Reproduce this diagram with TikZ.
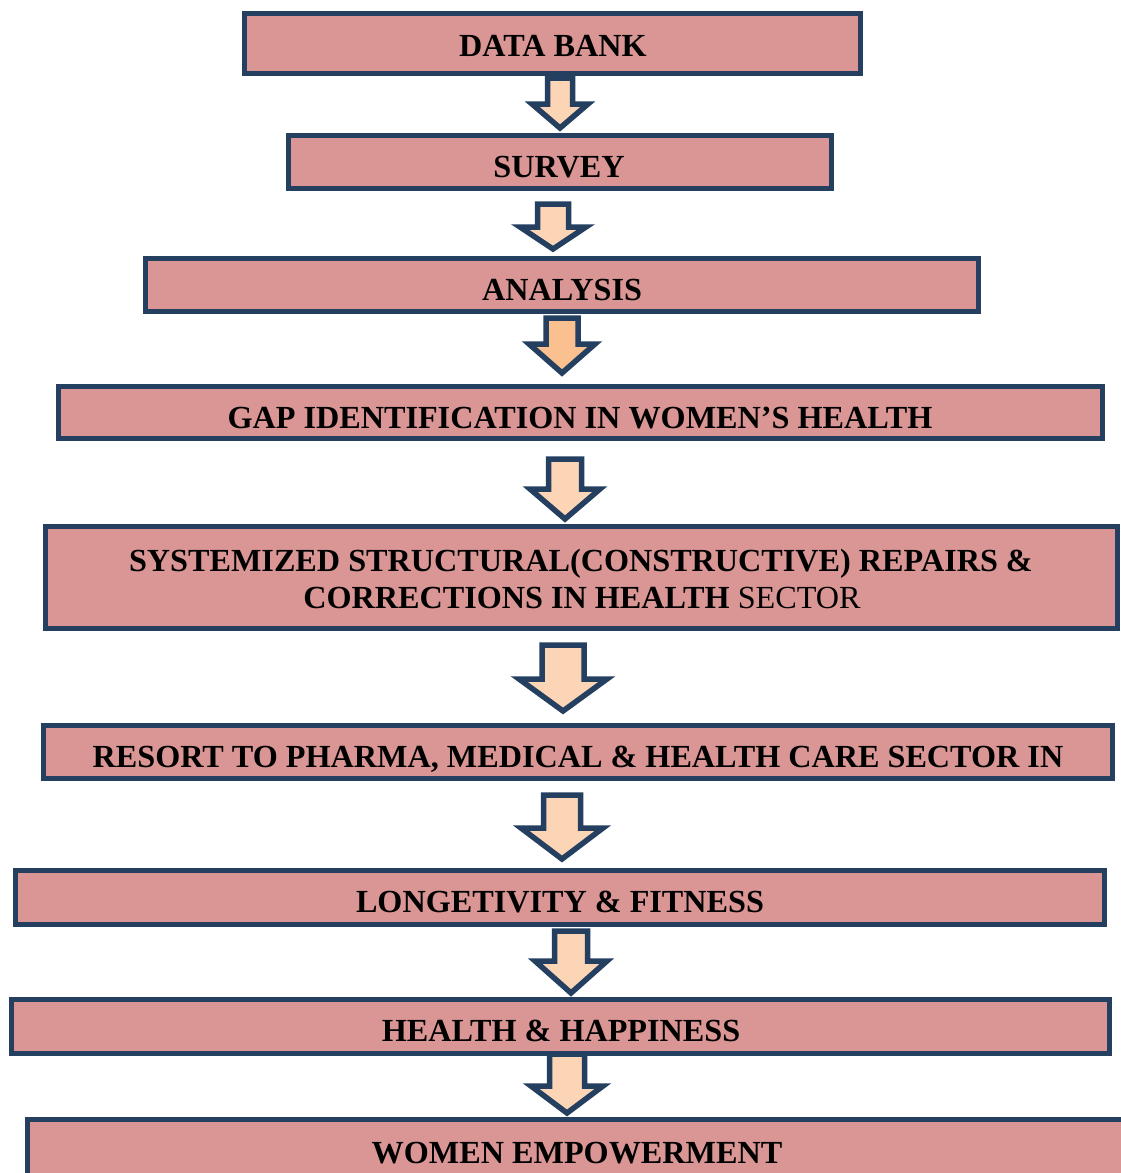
\documentclass[tikz,border=0pt]{standalone}
\usepackage{fontspec}
\setmainfont{Liberation Serif}
\usetikzlibrary{fit}
\definecolor{bordc}{HTML}{243F60}
\definecolor{boxc}{HTML}{D99694}
\definecolor{arrc}{HTML}{FBD5B5}
\definecolor{arrd}{HTML}{FAC090}
\tikzset{
  flowbox/.style={draw=bordc, fill=boxc, line width=5.5pt, inner sep=0pt, outer sep=0pt},
  lbl/.style={anchor=base, inner sep=0pt, font=\fontsize{32.2}{38}\selectfont\bfseries},
  blockarrow/.style={draw=bordc, line width=5.5pt, line join=miter}
}
% cx, top, shoulder, tip, shaft half, head half, fill
\newcommand\dnarrow[7]{%
  \draw[blockarrow, fill=#7] (#1-#5,#2) -- (#1+#5,#2) -- (#1+#5,#3) -- (#1+#6,#3)
    -- (#1,#4) -- (#1-#6,#3) -- (#1-#5,#3) -- cycle;}
\begin{document}
\begin{tikzpicture}[x=1pt,y=-1pt]
\useasboundingbox (0,0) rectangle (1121,1173);
\clip (0,0) rectangle (1121,1173);
\fill[white] (0,0) rectangle (1121,1173);
% boxes
\node[flowbox, fit={(244.7,13.7) (860.3,73.3)}] (b1) {};
\node[flowbox, fit={(288.7,135.7) (831.3,188.3)}] (b2) {};
\node[flowbox, fit={(145.7,258.7) (978.3,311.3)}] (b3) {};
\node[flowbox, fit={(58.7,386.7) (1102.3,438.3)}] (b4) {};
\node[flowbox, fit={(45.7,526.7) (1117.3,628.3)}] (b5) {};
\node[flowbox, fit={(43.7,725.7) (1112.3,778.3)}] (b6) {};
\node[flowbox, fit={(15.7,870.7) (1104.3,924.3)}] (b7) {};
\node[flowbox, fit={(11.7,999.7) (1109.3,1053.3)}] (b8) {};
\node[flowbox, fit={(27.7,1119.7) (1140,1200)}] (b9) {};
% labels
\node[lbl] (t1) at (553,56) {DATA BANK};
\node[lbl] (t2) at (559,177) {SURVEY};
\node[lbl] (t3) at (562,300) {ANALYSIS};
\node[lbl] (t4) at (580,428) {GAP IDENTIFICATION IN WOMEN’S HEALTH};
\node[lbl] (t5a) at (581,571) {SYSTEMIZED STRUCTURAL(CONSTRUCTIVE) REPAIRS \&};
\node[lbl] (t5b) at (582,608) {CORRECTIONS IN HEALTH\mdseries{} SECTOR};
\node[lbl] (t6) at (578,767) {RESORT TO PHARMA, MEDICAL \& HEALTH CARE SECTOR IN};
\node[lbl] (t7) at (560,912) {LONGETIVITY \& FITNESS};
\node[lbl] (t8) at (561,1041) {HEALTH \& HAPPINESS};
\node[lbl] (t9) at (577,1163) {WOMEN EMPOWERMENT};
% arrows
\dnarrow{560}{78}{104}{128}{12.5}{28}{arrc}
\dnarrow{553}{204}{227}{249}{15.5}{33}{arrc}
\dnarrow{562}{318}{344}{373}{16}{33}{arrd}
\dnarrow{565}{459}{489}{519}{16.5}{35}{arrc}
\dnarrow{563}{645}{679}{711}{21}{44}{arrc}
\dnarrow{562}{795}{828}{859}{18.5}{41}{arrc}
\dnarrow{571}{931}{961}{993}{16.5}{36}{arrc}
\dnarrow{567}{1054}{1086}{1113}{17.5}{36}{arrc}
\end{tikzpicture}
\end{document}
